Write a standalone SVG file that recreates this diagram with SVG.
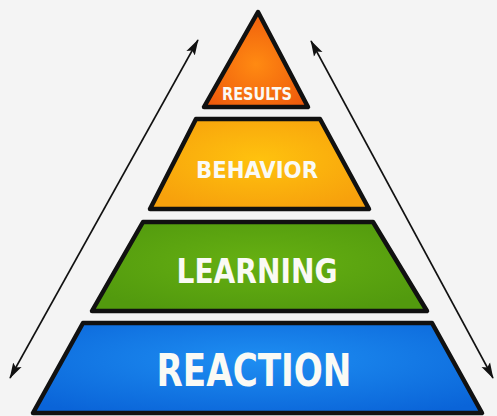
<svg xmlns="http://www.w3.org/2000/svg" width="497" height="416" viewBox="0 0 497 416">
<defs>
<radialGradient id="gTop" cx="0.5" cy="0.55" r="0.6">
<stop offset="0" stop-color="#FF8A12"/>
<stop offset="1" stop-color="#EE5A0C"/>
</radialGradient>
<radialGradient id="gBeh" cx="0.5" cy="0.45" r="0.6">
<stop offset="0" stop-color="#FFC20E"/>
<stop offset="1" stop-color="#F7A10C"/>
</radialGradient>
<radialGradient id="gLrn" cx="0.5" cy="0.45" r="0.6">
<stop offset="0" stop-color="#66B012"/>
<stop offset="1" stop-color="#529A0E"/>
</radialGradient>
<radialGradient id="gRea" cx="0.5" cy="0.4" r="0.7">
<stop offset="0" stop-color="#1E8EF2"/>
<stop offset="1" stop-color="#0A64D8"/>
</radialGradient>
<marker id="ah" viewBox="0 0 10 10" refX="9.5" refY="5" markerWidth="10" markerHeight="10" markerUnits="strokeWidth" orient="auto-start-reverse">
<path d="M0,2 L10,5 L0,8 L2,5 Z" fill="#111"/>
</marker>
</defs>
<style>
.tier{stroke:#111;stroke-width:4.5;stroke-linejoin:round}
.lbl{font-family:"DejaVu Sans Condensed","DejaVu Sans",sans-serif;font-weight:bold;fill:#FAFAF5;text-anchor:middle}
.arr{stroke:#111;stroke-width:1.6;fill:none;marker-start:url(#ah);marker-end:url(#ah)}
</style>
<rect width="497" height="416" fill="#F4F4F4"/>
<g id="connectors">
<line class="arr" x1="10" y1="378" x2="198" y2="40"/>
<line class="arr" x1="311" y1="41" x2="493" y2="378"/>
</g>
<g id="results">
<polygon class="tier" points="258,12 308,107 204,107" fill="url(#gTop)"/>
<text class="lbl" x="257" y="100" font-size="17" textLength="70" lengthAdjust="spacingAndGlyphs">RESULTS</text>
</g>
<g id="behavior">
<polygon class="tier" points="196,119 320,119 369,209 150,209" fill="url(#gBeh)"/>
<text class="lbl" x="257" y="178" font-size="23" textLength="122" lengthAdjust="spacingAndGlyphs">BEHAVIOR</text>
</g>
<g id="learning">
<polygon class="tier" points="143,222 373,222 427,311 92,311" fill="url(#gLrn)"/>
<text class="lbl" x="257" y="283" font-size="34" textLength="161" lengthAdjust="spacingAndGlyphs">LEARNING</text>
</g>
<g id="reaction">
<polygon class="tier" points="83,323 432,323 482,413 33,413" fill="url(#gRea)"/>
<text class="lbl" x="254" y="386" font-size="45" textLength="195" lengthAdjust="spacingAndGlyphs">REACTION</text>
</g>
</svg>
